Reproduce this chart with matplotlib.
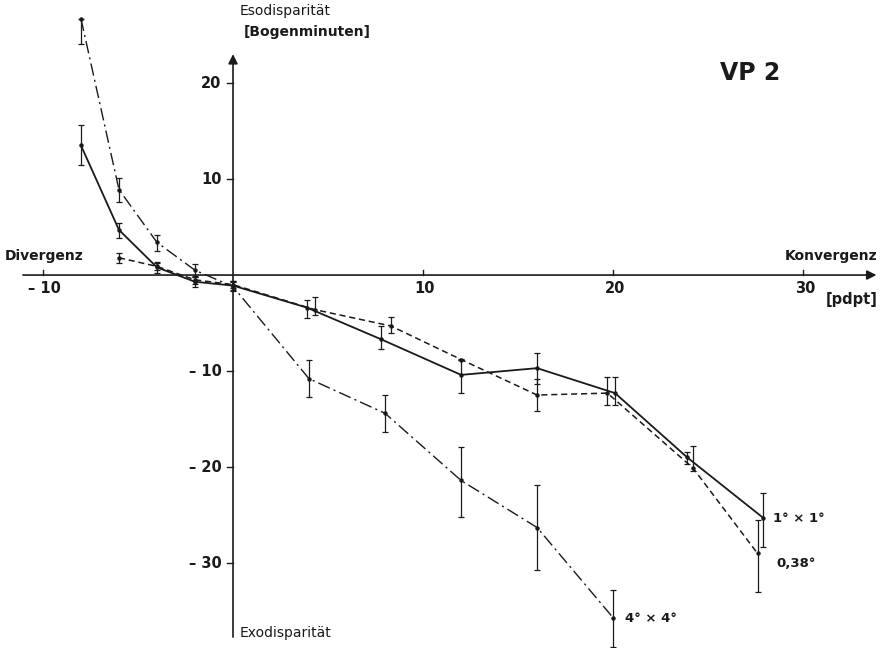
import numpy as np
import matplotlib
matplotlib.use('Agg')
import matplotlib.pyplot as plt

# -----------------------------
# Data (x in pdpt, y in arc minutes)
# -----------------------------
x_1x1 = [-8, -6, -4, -2, 0, 3.9, 7.8, 12, 16, 20.1, 23.9, 27.9]
y_1x1 = [13.5, 4.7, 0.8, -0.7, -1.1, -3.4, -6.7, -10.4, -9.7, -12.3, -19.0, -25.3]
lo_1x1 = [2.0, 0.8, 0.6, 0.5, 0.5, 1.1, 1.0, 1.9, 1.6, 1.2, 0.7, 3.0]
hi_1x1 = [2.1, 0.7, 0.6, 0.5, 0.5, 0.8, 1.4, 1.7, 1.6, 1.7, 0.6, 2.6]

x_038 = [-6, -4, -2, 0, 4.3, 8.3, 12, 16, 19.7, 24.2, 27.6]
y_038 = [1.8, 0.9, -0.5, -1.0, -3.6, -5.3, -8.8, -12.5, -12.3, -20.1, -29.0]
lo_038 = [0.5, 0.4, 0.4, 0.4, 0.6, 0.7, 0.0, 1.7, 1.2, 0.3, 4.0]
hi_038 = [0.5, 0.4, 0.4, 0.4, 1.3, 0.9, 0.0, 1.7, 1.7, 2.3, 3.5]

x_4x4 = [-8, -6, -4, -2, 0, 4, 8, 12, 16, 20]
y_4x4 = [26.7, 8.9, 3.4, 0.5, -1.2, -10.8, -14.4, -21.4, -26.3, -35.7]
lo_4x4 = [2.6, 1.3, 0.9, 0.7, 0.5, 1.9, 2.0, 3.8, 4.4, 3.0]
hi_4x4 = [0.0, 1.2, 0.8, 0.7, 0.5, 2.0, 1.9, 3.5, 4.4, 2.9]

xticks = [-10, 10, 20, 30]
xticklabels = ['– 10', '10', '20', '30']
yticks = [-30, -20, -10, 10, 20]
yticklabels = ['– 30', '– 20', '– 10', '10', '20']

plt.rcParams['font.family'] = ['DejaVu Sans']
fig = plt.figure(figsize=(8.83, 6.48), dpi=100)
ax = fig.add_axes([0, 0, 1, 1])
ax.set_xlim(-12.26, 34.2)
ax.set_ylim(-38.85, 28.65)
ax.axis('off')

ink = '#1a1a1a'

# axes with arrows
ax.annotate('', xy=(34.0, 0), xytext=(-11.2, 0),
            arrowprops=dict(arrowstyle='-|>', color=ink, lw=1.2, mutation_scale=14))
ax.annotate('', xy=(0, 23.3), xytext=(0, -38.0),
            arrowprops=dict(arrowstyle='-|>', color=ink, lw=1.2, mutation_scale=14))

for xt, lab in zip(xticks, xticklabels):
    ax.plot([xt, xt], [0, 0.5], color=ink, lw=1.0)
    ax.text(xt + 0.1, -0.6, lab, ha='center', va='top', fontsize=10.5,
            fontweight='bold', color=ink)
for yt, lab in zip(yticks, yticklabels):
    ax.plot([-0.3, 0], [yt, yt], color=ink, lw=1.0)
    ax.text(-0.6, yt, lab, ha='right', va='center', fontsize=10.5,
            fontweight='bold', color=ink)

# series
def series(x, y, lo, hi, **kw):
    ax.errorbar(x, y, yerr=[lo, hi], color=ink, marker='o', markersize=2.2,
                capsize=2.5, elinewidth=0.9, capthick=0.9, **kw)

series(x_1x1, y_1x1, lo_1x1, hi_1x1, lw=1.3, ls='-')
series(x_038, y_038, lo_038, hi_038, lw=1.1, ls=(0, (4, 2.5)))
series(x_4x4, y_4x4, lo_4x4, hi_4x4, lw=1.0, ls=(0, (9, 3, 1.5, 3)))

# labels
txt = dict(fontsize=9.5, color=ink, fontweight='bold')
ax.text(28.4, -25.4, '1° × 1°', ha='left', va='center', **txt)
ax.text(28.6, -30.0, '0,38°', ha='left', va='center', **txt)
ax.text(20.6, -35.8, '4° × 4°', ha='left', va='center', **txt)

ax.text(0.35, 27.5, 'Esodisparität', ha='left', va='center', fontsize=10, color=ink)
ax.text(0.55, 25.3, '[Bogenminuten]', ha='left', va='center', fontsize=10,
        fontweight='bold', color=ink)
ax.text(0.35, -37.3, 'Exodisparität', ha='left', va='center', fontsize=10, color=ink)
ax.text(-12.0, 2.0, 'Divergenz', ha='left', va='center', fontsize=10,
        fontweight='bold', color=ink)
ax.text(33.9, 2.0, 'Konvergenz', ha='right', va='center', fontsize=10,
        fontweight='bold', color=ink)
ax.text(33.9, -2.6, '[pdpt]', ha='right', va='center', fontsize=10.5,
        fontweight='bold', color=ink)
ax.text(25.6, 21.0, 'VP 2', ha='left', va='center', fontsize=17,
        fontweight='bold', color=ink)

fig.savefig('out.png', dpi=100, facecolor='white')
